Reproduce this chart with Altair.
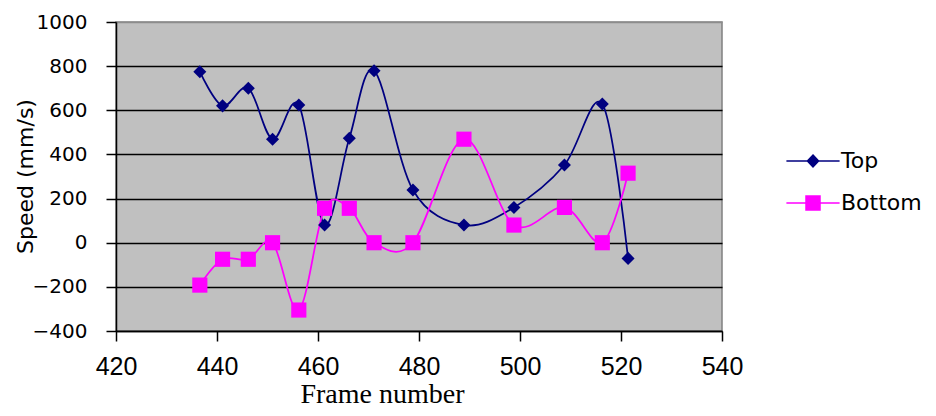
import altair as alt
import pandas as pd

frames = [436.6, 441.1, 446.2, 451.0, 456.2, 461.3, 466.2, 471.1, 478.8, 488.9, 498.8, 508.8, 516.3, 521.4]
top_speed = [775, 620, 700, 469, 624, 80, 473, 779, 239, 80, 160, 352, 628, -71]
bottom_speed = [-192, -75, -75, 0, -305, 156, 156, 0, 0, 469, 80, 160, 0, 315]
series_names = ["Top", "Bottom"]
series_colors = ["#000080", "#FF00FF"]
x_ticks = [420, 440, 460, 480, 500, 520, 540]
y_ticks = [-400, -200, 0, 200, 400, 600, 800, 1000]

rows = []
for f, v in zip(frames, top_speed):
    rows.append({"frame": f, "speed": v, "series": "Top"})
for f, v in zip(frames, bottom_speed):
    rows.append({"frame": f, "speed": v, "series": "Bottom"})
df = pd.DataFrame(rows)

legend = alt.Legend(
    title=None, orient="none", legendX=686, legendY=128, padding=0,
    symbolSize=196, symbolStrokeWidth=1.5, symbolOpacity=1, labelOffset=17,
    labelFont="DejaVu Sans", labelFontSize=22, labelColor="black",
    rowPadding=20,
)
color_scale = alt.Scale(domain=series_names, range=series_colors)

x_enc = alt.X(
    "frame:Q",
    scale=alt.Scale(domain=[420, 540], nice=False, zero=False),
    axis=alt.Axis(
        values=x_ticks, title="Frame number", titleFont="Liberation Serif",
        titleFontSize=28, titleFontWeight="normal", titleColor="black",
        titleX=266, titleY=71, titleAlign="center", titleBaseline="alphabetic",
        labelFont="Liberation Sans", labelFontSize=25, labelColor="black",
        labelPadding=13, labelFlush=False, tickSize=10, tickColor="black",
        tickWidth=1.5, domainColor="black", domainWidth=1.5, grid=False,
    ),
)
y_enc = alt.Y(
    "speed:Q",
    scale=alt.Scale(domain=[-400, 1000], nice=False, zero=False),
    axis=alt.Axis(
        values=y_ticks, format="d", title="Speed (mm/s)", titleFont="DejaVu Sans",
        titleFontSize=22, titleFontWeight="normal", titleColor="black",
        titleX=-91, titleY=154, titleAngle=-90, titleAlign="center",
        titleBaseline="middle",
        labelFont="DejaVu Sans", labelFontSize=20, labelColor="black",
        labelPadding=19, tickSize=10, tickColor="black", tickWidth=1.5,
        domainColor="black", domainWidth=1.5, grid=True, gridWidth=1.5,
        gridColor={"condition": {"test": "datum.value === 1000", "value": "#8c8c8c"}, "value": "black"},
    ),
)

base = alt.Chart(df)

legend_layer = base.mark_point(filled=True, size=196, strokeWidth=1.5, opacity=1).encode(
    x=x_enc, y=y_enc,
    color=alt.Color("series:N", scale=color_scale, legend=legend),
    stroke=alt.Stroke("series:N", scale=alt.Scale(domain=series_names, range=series_colors), legend=legend),
    shape=alt.Shape("series:N", scale=alt.Scale(
        domain=series_names,
        range=["M-3.8,0H3.8M0,-0.85L0.8,0L0,0.85L-0.8,0Z", "M-3.8,0H3.8M-1,-1H1V1H-1Z"],
    ), legend=legend),
).transform_filter("false")

lines = base.mark_line(interpolate="cardinal", strokeWidth=1.75).encode(
    x=x_enc, y=y_enc,
    color=alt.Color("series:N", scale=color_scale, legend=legend),
    detail="series:N",
)

top_pts = base.mark_point(filled=True, shape="diamond", size=170, opacity=1).encode(
    x=x_enc, y=y_enc,
    color=alt.Color("series:N", scale=color_scale, legend=legend),
).transform_filter(alt.datum.series == "Top")

bottom_pts = base.mark_point(filled=True, shape="square", size=230, opacity=1).encode(
    x=x_enc, y=y_enc,
    color=alt.Color("series:N", scale=color_scale, legend=legend),
).transform_filter(alt.datum.series == "Bottom")

chart = alt.layer(legend_layer, lines, top_pts, bottom_pts).properties(
    width=606, height=309,
    autosize=alt.AutoSizeParams(type="none"),
    padding={"left": 108, "top": 14, "right": 206, "bottom": 77},
).configure_view(
    fill="#C0C0C0", stroke="#808080", strokeWidth=1.5,
)

chart.save("out.html", embed_options={"renderer": "svg", "actions": False})
